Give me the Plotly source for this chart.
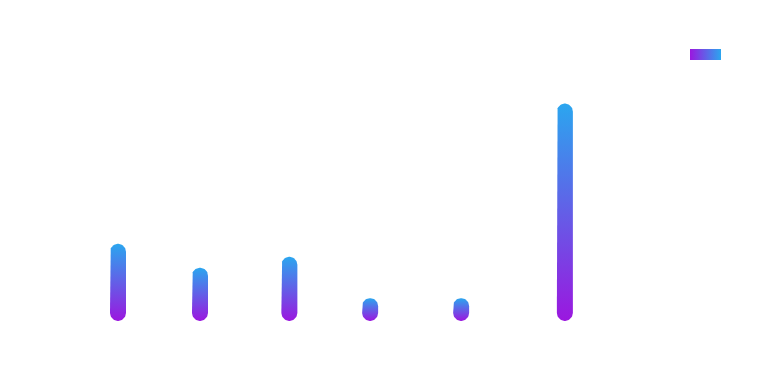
import base64
import numpy as np
import plotly.graph_objects as go

# ---- data ----
x_pos = [12, 22, 32.9, 42.75, 53.85, 66.5]
values = [35.5, 24.5, 29.5, 10.5, 10.5, 100]
series_name = "series"
color_bottom = "#9B17DF"
color_top = "#2BA6EF"

# ---- layout geometry ----
W, H = 760, 385
m_l, m_r, m_t, m_b = 0, 0, 60, 64
x_range = [-2.39, 90.3]
y_range = [0, 120]
bar_px = 16

plot_w = W - m_l - m_r
plot_h = H - m_t - m_b
px_x = plot_w / (x_range[1] - x_range[0])
px_y = plot_h / (y_range[1] - y_range[0])
rx = (bar_px / 2) / px_x
ry = (bar_px / 2) / px_y

fig = go.Figure()
for i, (xc, v) in enumerate(zip(x_pos, values)):
    t_top = np.linspace(np.pi, 0, 30)
    t_bot = np.linspace(0, -np.pi, 30)
    xs = np.concatenate([[xc - rx], xc + rx * np.cos(t_top), [xc + rx],
                         xc + rx * np.cos(t_bot)])
    ys = np.concatenate([[ry], (v - ry) + ry * np.sin(t_top), [v - ry],
                         ry + ry * np.sin(t_bot)])
    fig.add_trace(go.Scatter(
        x=xs, y=ys, mode="lines", fill="toself",
        line=dict(width=0, color="rgba(0,0,0,0)"),
        fillgradient=dict(type="vertical",
                          colorscale=[[0, color_bottom], [1, color_top]]),
        name=series_name, showlegend=False,
        hoverinfo="skip",
    ))

# legend swatch: horizontal gradient rectangle
svg = (
    '<svg xmlns="http://www.w3.org/2000/svg" width="31" height="11">'
    '<defs><linearGradient id="g" x1="0" y1="0" x2="1" y2="0">'
    f'<stop offset="0" stop-color="{color_bottom}"/>'
    f'<stop offset="1" stop-color="{color_top}"/>'
    '</linearGradient></defs>'
    '<rect width="31" height="11" fill="url(#g)"/></svg>'
)
src = "data:image/svg+xml;base64," + base64.b64encode(svg.encode()).decode()
fig.add_layout_image(
    source=src, xref="paper", yref="paper",
    x=690 / plot_w, y=(H - m_b - 49) / plot_h,
    sizex=31 / plot_w, sizey=11 / plot_h,
    xanchor="left", yanchor="top", sizing="stretch", layer="above",
)

fig.update_layout(
    width=W, height=H,
    margin=dict(l=m_l, r=m_r, t=m_t, b=m_b),
    paper_bgcolor="white", plot_bgcolor="white",
    xaxis=dict(range=x_range, visible=False, fixedrange=True),
    yaxis=dict(range=y_range, visible=False, fixedrange=True),
    showlegend=False,
)
fig.write_html("out.html",
               config={"displayModeBar": False},
               post_script="document.body.style.margin='0';")
